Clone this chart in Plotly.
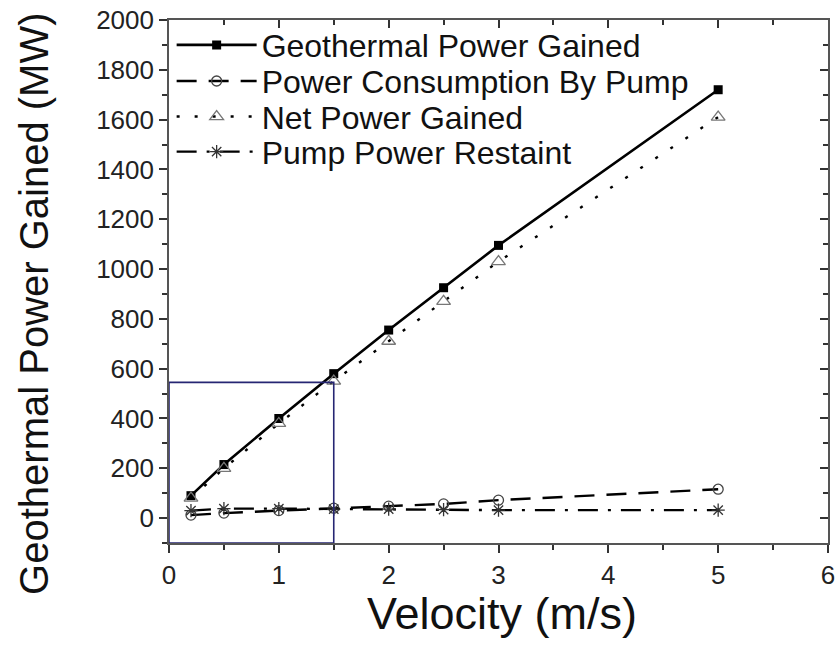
import plotly.graph_objects as go

velocity = [0.2, 0.5, 1.0, 1.5, 2.0, 2.5, 3.0, 5.0]
geothermal = [90, 215, 400, 580, 755, 925, 1095, 1720]
consumption = [12, 20, 30, 40, 48, 57, 72, 116]
net_power = [80, 200, 380, 550, 710, 870, 1030, 1610]
pump_restraint = [30, 38, 38, 36, 36, 34, 32, 32]

names = ["Geothermal Power Gained", "Power Consumption By Pump",
         "Net Power Gained", "Pump Power Restaint"]

box_x = [0, 1.5]
box_y = [-100, 545]

FONT = "Liberation Sans, Arial, sans-serif"
LEG_Y = [0.952, 0.883, 0.815, 0.748]

fig = go.Figure()
fig.add_trace(go.Scatter(x=velocity, y=geothermal, name=names[0], mode="lines+markers",
                         legend="legend",
                         line=dict(color="black", width=2.6),
                         marker=dict(symbol="square", size=9, color="black")))
fig.add_trace(go.Scatter(x=velocity, y=consumption, name=names[1], mode="lines+markers",
                         legend="legend2",
                         line=dict(color="black", width=2.4, dash="20px,12px"),
                         marker=dict(symbol="circle-open", size=10, color="#444",
                                     line=dict(width=1.3))))
fig.add_trace(go.Scatter(x=velocity, y=net_power, name=names[2], mode="lines+markers",
                         legend="legend3",
                         line=dict(color="black", width=2.4, dash="3px,15px"),
                         marker=dict(symbol="triangle-up-open", size=12, color="#777",
                                     line=dict(width=1.3))))
fig.add_trace(go.Scatter(x=velocity, y=pump_restraint, name=names[3], mode="lines+markers",
                         legend="legend4",
                         line=dict(color="black", width=2.4, dash="20px,10px,3px,10px"),
                         marker=dict(symbol="asterisk-open", size=11, color="#333",
                                     line=dict(width=1.3))))

fig.add_shape(type="rect", x0=box_x[0], x1=box_x[1], y0=box_y[0], y1=box_y[1],
              line=dict(color="#262673", width=1.6), xref="x", yref="y")

axis_common = dict(showgrid=False, zeroline=False, showline=True,
                   linecolor="#555", linewidth=1.6, tickcolor="#333",
                   tickfont=dict(family=FONT, size=26, color="#222"))

def leg(yv):
    return dict(x=0.004, y=yv, xanchor="left", yanchor="middle",
                bgcolor="rgba(0,0,0,0)", font=dict(family=FONT, size=32, color="#111"),
                itemwidth=80, borderwidth=0)

fig.update_layout(
    width=839, height=653,
    margin=dict(l=169, r=11, t=20, b=110, autoexpand=False),
    paper_bgcolor="white", plot_bgcolor="white",
    font=dict(family=FONT, color="black"),
    showlegend=True,
    legend=leg(LEG_Y[0]), legend2=leg(LEG_Y[1]),
    legend3=leg(LEG_Y[2]), legend4=leg(LEG_Y[3]),
    xaxis=dict(range=[0, 6], tickmode="linear", tick0=0, dtick=1,
               ticks="outside", ticklen=8, tickwidth=1.6,
               minor=dict(dtick=0.5, ticks="outside", ticklen=5, tickcolor="#333"),
               automargin=False, **axis_common),
    yaxis=dict(range=[-100, 2000], tickmode="linear", tick0=0, dtick=200,
               ticks="outside", ticklen=8, tickwidth=1.6,
               minor=dict(dtick=100, ticks="outside", ticklen=5, tickcolor="#333"),
               automargin=False, **axis_common),
    xaxis2=dict(range=[0, 6], overlaying="x", side="top",
                tickmode="linear", tick0=0, dtick=1, ticks="inside", ticklen=8, tickwidth=1.6,
                minor=dict(dtick=0.5, ticks="inside", ticklen=5, tickcolor="#333"),
                showticklabels=False, showgrid=False, zeroline=False, showline=True,
                linecolor="#555", linewidth=1.6, tickcolor="#333"),
    yaxis2=dict(range=[-100, 2000], overlaying="y", side="right",
                tickmode="linear", tick0=0, dtick=200, ticks="inside", ticklen=8, tickwidth=1.6,
                minor=dict(dtick=100, ticks="inside", ticklen=5, tickcolor="#333"),
                showticklabels=False, showgrid=False, zeroline=False, showline=True,
                linecolor="#555", linewidth=1.6, tickcolor="#333"),
    annotations=[
        dict(text="Geothermal Power Gained (MW)", textangle=-90,
             xref="paper", yref="paper", x=-0.205, y=0.457,
             xanchor="center", yanchor="middle", showarrow=False,
             font=dict(family=FONT, size=40, color="#111")),
        dict(text="Velocity (m/s)",
             xref="paper", yref="paper", x=0.505, y=-0.134,
             xanchor="center", yanchor="middle", showarrow=False,
             font=dict(family=FONT, size=45, color="#111")),
    ],
)
# invisible trace to activate the mirrored top/right axes
fig.add_trace(go.Scatter(x=[velocity[0]], y=[geothermal[0]], xaxis="x2", yaxis="y2",
                         mode="markers", marker=dict(opacity=0), showlegend=False,
                         hoverinfo="skip"))

fig.write_html("out.html")
